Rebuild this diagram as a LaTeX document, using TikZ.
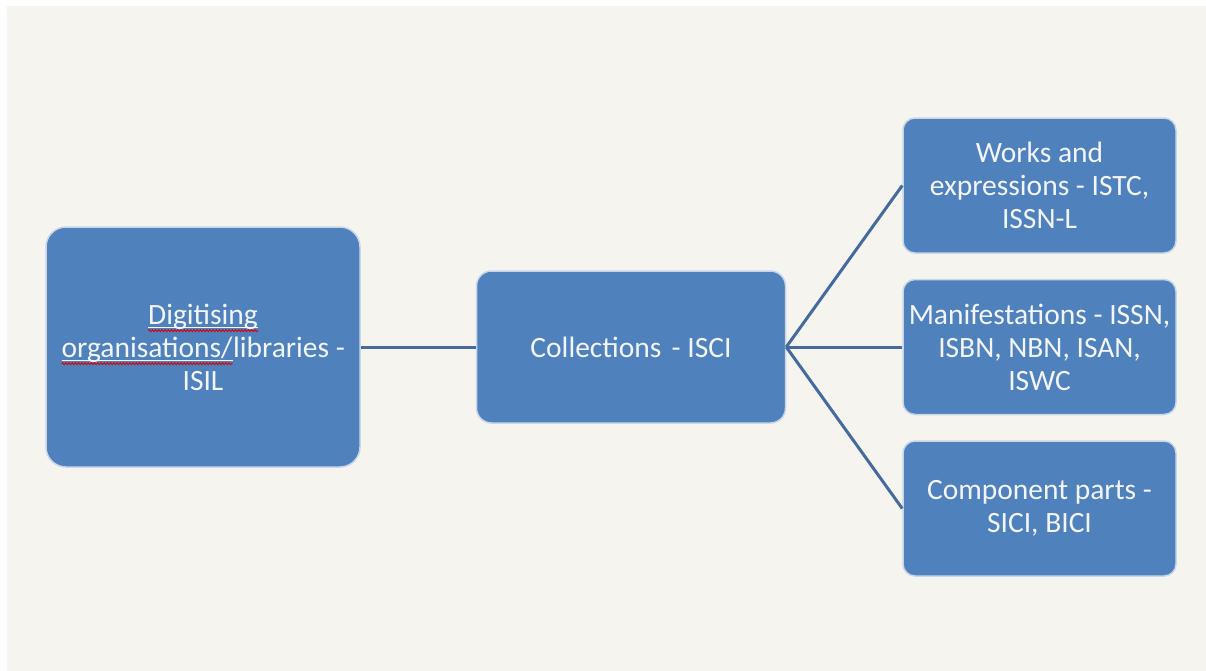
\documentclass[tikz,border=0pt]{standalone}
\usepackage{fontspec}
\setmainfont{Carlito}
\usetikzlibrary{positioning, decorations.pathmorphing}

\definecolor{paper}{RGB}{245,244,239}
\definecolor{boxblue}{RGB}{79,129,189}
\definecolor{boxedge}{RGB}{200,214,232}
\definecolor{linkblue}{RGB}{70,106,158}
\definecolor{boxtext}{RGB}{243,245,249}

% word underlined with a spell-check squiggle
\newcommand{\spellmark}[1]{\tikz[baseline=(w.base), sharp corners, minimum width=0pt, minimum height=0pt]{%
    \node[inner sep=0pt, outer sep=0pt, draw=none, fill=none] (w) {#1};
    \draw[boxtext, line width=1pt] ([yshift=-3pt]w.base west) -- ([yshift=-3pt]w.base east);
    \draw[red!85!black, line width=0.9pt, decorate, decoration={snake, amplitude=1pt, segment length=3.2pt}]
        ([yshift=-6.5pt]w.base west) -- ([yshift=-6.5pt]w.base east);}}

\begin{document}
\begin{tikzpicture}[
            x=1pt, y=-1pt,
            idbox/.style={draw=boxedge, line width=1.5pt, fill=boxblue, text=boxtext, align=center,
                font=\fontsize{29.5}{33}\selectfont, inner sep=2pt},
            link/.style={draw=linkblue, line width=3pt},
        ]

            % page
            \useasboundingbox (0,0) rectangle (1206,670);
            \fill[white] (0,0) rectangle (1206,670);
            \fill[paper] (7,6) rectangle (1212,676);

            % Left and middle
            \node[idbox, rounded corners=20pt, minimum width=314pt, minimum height=240pt] (digit) at (203,347)
                {\spellmark{Digitising}\\\spellmark{organisations/}libraries -\\ISIL};
            \node[idbox, rounded corners=15pt, minimum width=309pt, minimum height=152pt, right=115pt of digit] (coll)
                {Collections\hspace{0.12em} - ISCI};

            % Right column
            \node[idbox, rounded corners=12pt, minimum width=273pt, minimum height=135pt, right=116pt of coll] (manif)
                {Manifestations - ISSN,\\ISBN, NBN, ISAN,\\ISWC};
            \node[idbox, rounded corners=12pt, minimum width=273pt, minimum height=135pt, above=25pt of manif] (works)
                {Works and\\expressions - ISTC,\\ISSN-L};
            \node[idbox, rounded corners=12pt, minimum width=273pt, minimum height=135pt, below=25pt of manif] (comp)
                {Component parts -\\SICI, BICI};

            % Connectors
            \draw[link] (digit) -- (coll);
            \draw[link] (coll.east) -- (works.west);
            \draw[link] (coll.east) -- (manif.west);
            \draw[link] (coll.east) -- (comp.west);

        \end{tikzpicture}
\end{document}
